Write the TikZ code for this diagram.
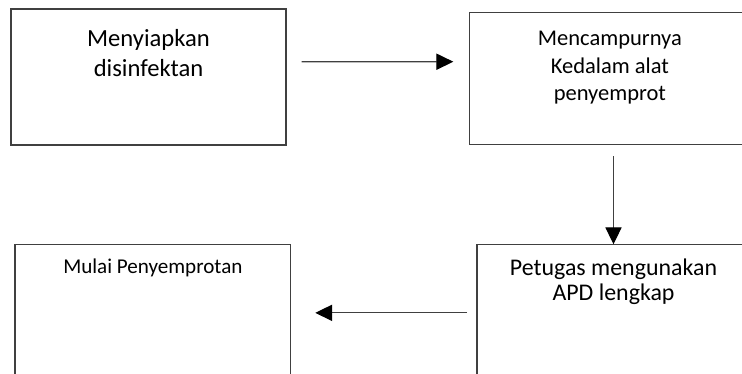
\documentclass[tikz,border=0pt]{standalone}
\usepackage{fontspec}
\setmainfont{Carlito}
\usetikzlibrary{arrows.meta, positioning}
\tikzset{
  stepbox/.style = {draw=black!75, line width=0.8pt, inner sep=0pt},
  steptext/.style = {align=center, inner sep=0pt, text=black}
}
\begin{document}
\begin{tikzpicture}[x=0.025cm, y=-0.025cm, ->, >={Triangle[length=12pt, width=11.5pt, color=black]},
  flow/.style = {draw=black!75, line width=0.8pt}]
\useasboundingbox (0,0) rectangle (742,374);
\clip (0,0) rectangle (742,374);
% boxes
\node [stepbox, minimum width=6.875cm, minimum height=3.4cm] (siap) at (148.5,77) {};
\node [stepbox, minimum width=7cm, minimum height=3.3cm] (campur) at (609.9,78.3) {};
\node [stepbox, minimum width=6.825cm, minimum height=3.5cm] (apd) at (613.5,314.85) {};
\node [stepbox, minimum width=6.89cm, minimum height=3.5cm] (mulai) at (152.85,314.85) {};
% texts
\node [steptext, font=\fontsize{17.5}{21.3}\selectfont, below=0.52cm of siap.north] (siaptext) {Menyiapkan\\disinfektan};
\node [steptext, font=\fontsize{16}{19.8}\selectfont, below=0.47cm of campur.north] (campurtext) {Mencampurnya\\Kedalam alat\\penyemprot};
\node [steptext, font=\fontsize{17}{17.7}\selectfont, below=0.36cm of apd.north] (apdtext) {Petugas mengunakan\\APD lengkap};
\node [steptext, font=\fontsize{15}{18}\selectfont, below=0.36cm of mulai.north] (mulaitext) {Mulai Penyemprotan};
% arrows
\draw [flow, shorten <=0.375cm, shorten >=0.4cm] ([yshift=0.38cm]siap.east) -- ([yshift=0.415cm]campur.west);
\draw [flow, shorten <=0.285cm] (campur.south -| apd.north) -- (apd.north);
\draw [flow, shorten <=0.23cm, shorten >=0.6cm] ([yshift=0.05cm]apd.west) -- ([yshift=0.05cm]mulai.east);
\end{tikzpicture}
\end{document}
